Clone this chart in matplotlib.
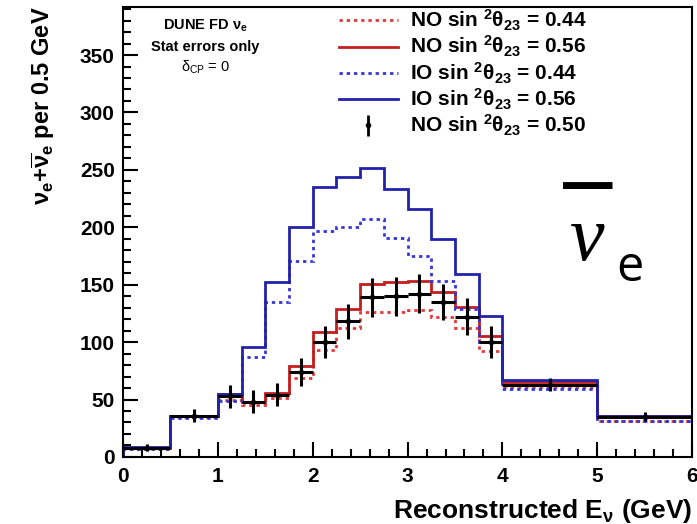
# DUNE FD nu-e appearance spectra, antineutrino mode
import numpy as np
import matplotlib
matplotlib.use('Agg')
import matplotlib.pyplot as plt
from matplotlib.ticker import MultipleLocator

plt.rcParams['font.family'] = ['Liberation Sans', 'DejaVu Sans']
plt.rcParams['font.weight'] = 'bold'
plt.rcParams['axes.labelweight'] = 'bold'
plt.rcParams['mathtext.default'] = 'regular'

# bin edges (GeV)
edges = [0, 0.5, 1.0, 1.25, 1.5, 1.75, 2.0, 2.25, 2.5, 2.75, 3.0, 3.25, 3.5, 3.75, 4.0, 5.0, 6.0]

# events per 0.5 GeV
no_044 = [7, 35, 50, 45, 51, 69, 93, 112, 126, 126, 128, 122, 112, 92, 61, 31]
no_056 = [8, 36, 55, 48, 56, 79, 109, 129, 151, 152, 153, 144, 131, 105, 65, 36]
io_044 = [7, 34, 49, 87, 135, 171, 197, 200, 207, 191, 175, 153, 129, 100, 59, 31]
io_056 = [9, 36, 55, 96, 152, 200, 235, 244, 252, 233, 216, 190, 159, 123, 67, 36]
data_050 = [8, 36, 53, 48, 54, 74, 100, 118, 139, 140, 142, 135, 122, 100, 63, 35]
data_err = [3, 6, 10, 10, 10, 12, 14, 15, 17, 17, 17, 16, 16, 14, 6, 4]

labels = [r'NO sin $^{2}\theta_{23}$ = 0.44', r'NO sin $^{2}\theta_{23}$ = 0.56',
          r'IO sin $^{2}\theta_{23}$ = 0.44', r'IO sin $^{2}\theta_{23}$ = 0.56',
          r'NO sin $^{2}\theta_{23}$ = 0.50']

red = '#c41e1e'
blue = '#2222a8'
dots = (0, (1.2, 1.4))

fig = plt.figure(figsize=(6.97, 5.24), dpi=100)
ax = fig.add_axes([0.1765, 0.128, 0.8165, 0.859])

e = np.array(edges)
centers = (e[:-1] + e[1:]) / 2
halfw = (e[1:] - e[:-1]) / 2

h1 = ax.stairs(no_044, edges, color='#e23a3a', lw=2, ls=dots, baseline=0)
h2 = ax.stairs(no_056, edges, color=red, lw=2, baseline=0)
h3 = ax.stairs(io_044, edges, color='#3535d8', lw=2, ls=dots, baseline=0)
h4 = ax.stairs(io_056, edges, color=blue, lw=2, baseline=0)
ax.errorbar(centers, data_050, yerr=data_err, xerr=halfw, fmt='o', color='black',
            ms=3, elinewidth=2.2, capsize=0)
# legend proxy: dot with vertical bar only
h5 = ax.errorbar([np.nan], [np.nan], yerr=[1], fmt='o', color='black', ms=3,
                 elinewidth=2, capsize=0)

ax.set_xlim(0, 6)
ax.set_ylim(0, 392)
ax.xaxis.set_major_locator(MultipleLocator(1))
ax.xaxis.set_minor_locator(MultipleLocator(0.2))
ax.yaxis.set_major_locator(MultipleLocator(50))
ax.yaxis.set_minor_locator(MultipleLocator(10))
ax.tick_params(which='both', direction='in', labelsize=15)
ax.tick_params(which='major', length=11, width=1.5)
ax.tick_params(which='minor', length=6, width=1.5)
ax.tick_params(axis='x', pad=7)
ax.tick_params(axis='y', pad=6)
for s in ax.spines.values():
    s.set_linewidth(1.5)

ax.set_xlabel(r'Reconstructed E$_{\nu}$ (GeV)', fontsize=19, loc='right', labelpad=8)
ax.set_ylabel(r'$\nu_{e}$+$\overline{\nu}_{e}$ per 0.5 GeV', fontsize=17, loc='top', labelpad=16)

ax.legend([h1, h2, h3, h4, h5], labels, loc='upper left', bbox_to_anchor=(0.378, 1.0),
          frameon=False, fontsize=15, handlelength=2.8, labelspacing=0.05,
          handletextpad=0.6, borderpad=0.05, borderaxespad=0)

ax.text(0.145, 0.958, r'DUNE FD $\nu_{e}$', transform=ax.transAxes, ha='center', va='center', fontsize=10.5)
ax.text(0.145, 0.911, 'Stat errors only', transform=ax.transAxes, ha='center', va='center', fontsize=10.5)
ax.text(0.145, 0.865, r'$\delta_{CP}$ = 0', transform=ax.transAxes, ha='center', va='center',
        fontsize=10.5, fontweight='normal')

# big overlay label
ax.text(0.815, 0.48, 'ν', transform=ax.transAxes, ha='center', va='center',
        fontsize=56, family='Liberation Serif', style='italic', fontweight='normal')
ax.text(0.891, 0.42, 'e', transform=ax.transAxes, ha='center', va='center',
        fontsize=35, family='Open Sans', fontweight='normal')
ax.text(0.817, 0.603, '\u2014', transform=ax.transAxes, ha='center', va='center',
        fontsize=40, family='DejaVu Sans', fontweight='bold')

fig.savefig('out.png', dpi=100)
